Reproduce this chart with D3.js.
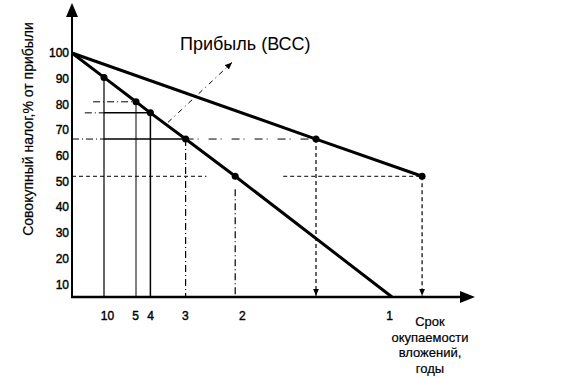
<!DOCTYPE html>
<html>
<head>
<meta charset="utf-8">
<script src="https://cdn.jsdelivr.net/npm/d3@7"></script>
<style>
  body { margin: 0; background: #fff; }
  svg { display: block; font-family: "Liberation Sans", Arial, sans-serif; }
</style>
</head>
<body>
<div id="main"></div>
<script>
// tick values of the vertical axis (% of profit)
var yTickValues = [10, 20, 30, 40, 50, 60, 70, 80, 90, 100];
// payback period labels (years) and where they sit on the horizontal axis
var yearLabels = [10, 5, 4, 3, 2, 1];
var yearLabelPos = [0.109, 0.197, 0.244, 0.353, 0.531, 0.991];
// steep line: total tax vs. payback
var taxLineX = [0, 0.1, 0.2, 0.245, 0.355, 0.51, 1.0];
var taxLineY = [100, 90.5, 81, 76.7, 66.5, 52, 5];
// flat line: profit (ВСС)
var profitLineX = [0, 0.7625, 1.094];
var profitLineY = [100, 66.5, 52];

var ctx = {
    w: 569,
    h: 378,
    x0: 72,
    axisY: 297,
    POINT_R: 3.5,
};

var initSVGcanvas = function(svg){
    ctx.xScale = d3.scaleLinear().domain([0, 1]).range([ctx.x0, 392]);
    ctx.yScale = d3.scaleLinear().domain([5, 100]).range([ctx.axisY, 53]);

    var defs = svg.append("defs");
    defs.append("marker")
        .attr("id", "smallArrow")
        .attr("markerUnits", "userSpaceOnUse")
        .attr("markerWidth", 8).attr("markerHeight", 8)
        .attr("refX", 7).attr("refY", 3)
        .attr("orient", "auto")
        .append("path")
        .attr("d", "M0,0 L7,3 L0,6 z")
        .style("fill", "#000");

    var bkg = svg.append("g").attr("id", "bkgG");
    // axes with arrow heads
    bkg.append("line")
        .attr("x1", ctx.x0).attr("y1", ctx.axisY)
        .attr("x2", ctx.x0).attr("y2", 14)
        .style("stroke", "#000").style("stroke-width", 2);
    bkg.append("path")
        .attr("d", "M" + (ctx.x0 - 6) + ",17 L" + ctx.x0 + ",3 L" + (ctx.x0 + 6) + ",17 z")
        .style("fill", "#000");
    bkg.append("line")
        .attr("x1", ctx.x0 - 1).attr("y1", ctx.axisY)
        .attr("x2", 462).attr("y2", ctx.axisY)
        .style("stroke", "#000").style("stroke-width", 2.5);
    bkg.append("path")
        .attr("d", "M460," + (ctx.axisY - 6) + " L475," + ctx.axisY + " L460," + (ctx.axisY + 6) + " z")
        .style("fill", "#000");

    // y tick labels
    var yAxis = bkg.append("g")
        .attr("transform", "translate(" + (ctx.x0 - 3) + ",0)")
        .call(d3.axisLeft(ctx.yScale).tickValues(yTickValues).tickSize(0).tickPadding(0));
    yAxis.select(".domain").remove();
    yAxis.selectAll("text")
        .style("font-family", "'Liberation Sans', Arial, sans-serif")
        .style("font-size", "12px")
        .style("fill", "#000")
        .style("stroke", "#000").style("stroke-width", 0.4);

    // x tick labels (payback years)
    var xAxis = bkg.append("g")
        .attr("transform", "translate(0," + ctx.axisY + ")")
        .call(d3.axisBottom(ctx.xScale).tickValues(yearLabelPos).tickSize(0).tickPadding(14)
            .tickFormat(function(d, i){ return yearLabels[i]; }));
    xAxis.select(".domain").remove();
    xAxis.selectAll("text")
        .style("font-family", "'Liberation Sans', Arial, sans-serif")
        .style("font-size", "12px")
        .style("fill", "#000")
        .style("stroke", "#000").style("stroke-width", 0.4);

    // y-axis label
    bkg.append("text")
        .attr("transform", "translate(33,129) rotate(-90)")
        .style("text-anchor", "middle")
        .style("font-size", "14px")
        .style("stroke", "#000").style("stroke-width", 0.2)
        .text("Совокупный налог,% от прибыли");
    // x-axis label
    var xl = bkg.append("text")
        .style("text-anchor", "middle")
        .style("font-size", "13px")
        .style("stroke", "#000").style("stroke-width", 0.2);
    ["Срок", "окупаемости", "вложений,", "годы"].forEach(function(t, i){
        xl.append("tspan").attr("x", 430).attr("y", 326 + i * 15.5).text(t);
    });
    // series label
    bkg.append("text")
        .attr("x", 180).attr("y", 50)
        .style("font-size", "18px")
        .text("Прибыль (ВСС)");
};

var seg = function(g, xa, ya, xb, yb, dash, width, arrow){
    var l = g.append("line")
        .attr("x1", ctx.xScale(xa)).attr("y1", ctx.yScale(ya))
        .attr("x2", ctx.xScale(xb)).attr("y2", ctx.yScale(yb))
        .style("stroke", "#000")
        .style("stroke-width", width || 1);
    if (dash) { l.style("stroke-dasharray", dash); }
    if (arrow) { l.attr("marker-end", "url(#smallArrow)"); }
    return l;
};

var drawGuides = function(svg){
    var g = svg.append("g").attr("id", "guideG");
    var dd = "7,3,1,3", da = "4,3";
    var base = 5.5;
    // horizontal guides
    seg(g, 0.066, taxLineY[2], taxLineX[2], taxLineY[2], dd, 1);
    seg(g, 0.04, taxLineY[3], taxLineX[1], taxLineY[3], dd, 1);
    seg(g, taxLineX[1], taxLineY[3], taxLineX[3], taxLineY[3], null, 1.5);
    seg(g, 0, taxLineY[4], taxLineX[1], taxLineY[4], dd, 1);
    seg(g, taxLineX[1], taxLineY[4], taxLineX[4], taxLineY[4], null, 1.5);
    seg(g, taxLineX[4], taxLineY[4], profitLineX[1], profitLineY[1], "8,4,1,10", 1);
    seg(g, 0, taxLineY[5], 0.42, taxLineY[5], da, 1);
    seg(g, 0.66, profitLineY[2], profitLineX[2], profitLineY[2], da, 1);
    // vertical guides
    seg(g, taxLineX[1], taxLineY[1], taxLineX[1], 5, null, 1.2);
    seg(g, taxLineX[2], taxLineY[2], taxLineX[2], 5, null, 1);
    seg(g, taxLineX[3], taxLineY[3], taxLineX[3], 5, null, 1.5);
    seg(g, taxLineX[4], taxLineY[4], taxLineX[4], 5, dd, 1.2);
    seg(g, taxLineX[5], taxLineY[5] - 5, taxLineX[5], 5, dd, 1.2);
    seg(g, profitLineX[1], profitLineY[1], profitLineX[1], base, da, 1.2, true);
    seg(g, profitLineX[2], profitLineY[2], profitLineX[2], base, da, 1.2, true);
    // leader from the label
    seg(g, 0.3, 73, 0.5, 96.3, "5,4,1,4", 1, true);
};

var populateSVGcanvas = function(svg){
    var line = d3.line()
        .x(function(d){ return ctx.xScale(d[0]); })
        .y(function(d){ return ctx.yScale(d[1]); });
    var g = svg.append("g").attr("id", "dataG");
    var tax = d3.zip(taxLineX, taxLineY);
    var profit = d3.zip(profitLineX, profitLineY);
    g.append("path").datum(tax)
        .attr("d", line)
        .style("fill", "none").style("stroke", "#000").style("stroke-width", 3);
    g.append("path").datum(profit)
        .attr("d", line)
        .style("fill", "none").style("stroke", "#000").style("stroke-width", 3);
    g.selectAll("circle.tax")
        .data(tax.slice(1, 6))
        .enter()
        .append("circle")
        .attr("class", "tax")
        .attr("cx", function(d){ return ctx.xScale(d[0]); })
        .attr("cy", function(d){ return ctx.yScale(d[1]); })
        .attr("r", ctx.POINT_R);
    g.selectAll("circle.profit")
        .data(profit.slice(1))
        .enter()
        .append("circle")
        .attr("class", "profit")
        .attr("cx", function(d){ return ctx.xScale(d[0]); })
        .attr("cy", function(d){ return ctx.yScale(d[1]); })
        .attr("r", ctx.POINT_R);
};

var createViz = function(){
    var svgEl = d3.select("#main").append("svg");
    svgEl.attr("width", ctx.w);
    svgEl.attr("height", ctx.h);
    initSVGcanvas(svgEl);
    drawGuides(svgEl);
    populateSVGcanvas(svgEl);
};

createViz();
</script>
</body>
</html>
